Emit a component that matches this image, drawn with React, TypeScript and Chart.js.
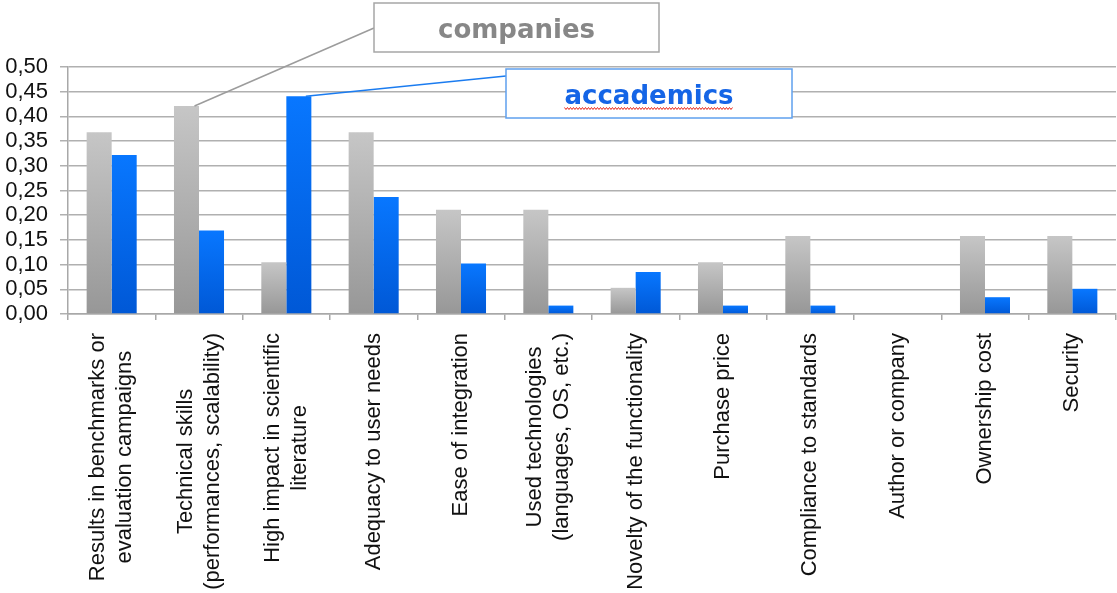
import React, { useEffect, useRef } from "react";
import { Chart, registerables } from "chart.js";

Chart.register(...registerables);

const categories: string[][] = [
  ["Results in benchmarks or", "evaluation campaigns"],
  ["Technical skills", "(performances, scalability)"],
  ["High impact in scientific", "literature"],
  ["Adequacy to user needs"],
  ["Ease of integration"],
  ["Used technologies", "(languages, OS, etc.)"],
  ["Novelty of the functionality"],
  ["Purchase price"],
  ["Compliance to standards"],
  ["Author or company"],
  ["Ownership cost"],
  ["Security"],
];

const seriesNames = ["companies", "accademics"];

const companies = [0.368, 0.421, 0.105, 0.368, 0.211, 0.211, 0.053, 0.105, 0.158, 0, 0.158, 0.158];
const accademics = [0.322, 0.169, 0.441, 0.237, 0.102, 0.017, 0.085, 0.017, 0.017, 0, 0.034, 0.051];

const yTickLabels = ["0,00", "0,05", "0,10", "0,15", "0,20", "0,25", "0,30", "0,35", "0,40", "0,45", "0,50"];

const FONT = "'Liberation Sans', Arial, Helvetica, sans-serif";

// vertical gradient per bar, light at the top, darker at the base
const barGradient = (top: string, bottom: string) => (context: any) => {
  const chart = context.chart;
  const yScale = chart.scales?.y;
  if (!chart.chartArea || !yScale || context.type !== "data") return bottom;
  const yTop = yScale.getPixelForValue(context.raw);
  const yBase = yScale.getPixelForValue(0);
  if (!isFinite(yTop) || Math.abs(yBase - yTop) < 1) return bottom;
  const g = chart.ctx.createLinearGradient(0, yTop, 0, yBase);
  g.addColorStop(0, top);
  g.addColorStop(1, bottom);
  return g;
};

// rotated, centre-aligned category labels under the x axis
const xLabelsPlugin = {
  id: "xLabels",
  afterDraw(chart: any) {
    const { ctx } = chart;
    const xScale = chart.scales.x;
    const lineH = 27;
    const topY = chart.chartArea.bottom + 19;
    ctx.save();
    ctx.font = `22px ${FONT}`;
    ctx.fillStyle = "#111";
    ctx.textBaseline = "middle";
    ctx.textAlign = "center";
    categories.forEach((lines, i) => {
      const cx = xScale.getPixelForValue(i);
      const maxW = Math.max(...lines.map((l) => ctx.measureText(l).width));
      ctx.save();
      ctx.translate(cx, topY);
      ctx.rotate(-Math.PI / 2);
      lines.forEach((line, j) => {
        const off = (j - (lines.length - 1) / 2) * lineH;
        ctx.fillText(line, -maxW / 2, off);
      });
      ctx.restore();
    });
    ctx.restore();
  },
};

// callout boxes with leader lines to the bars
const calloutPlugin = {
  id: "callouts",
  afterDraw(chart: any) {
    const { ctx } = chart;
    const grayBar = chart.getDatasetMeta(0).data[1];
    const blueBar = chart.getDatasetMeta(1).data[2];
    ctx.save();

    ctx.lineWidth = 1.5;
    ctx.strokeStyle = "#9c9c9c";
    ctx.beginPath();
    ctx.moveTo(grayBar.x + 8, grayBar.y);
    ctx.lineTo(374, 28);
    ctx.stroke();

    ctx.strokeStyle = "#1b7cf0";
    ctx.beginPath();
    ctx.moveTo(blueBar.x + 7, blueBar.y);
    ctx.lineTo(506, 76);
    ctx.stroke();

    // companies box
    ctx.fillStyle = "#fff";
    ctx.fillRect(374, 3, 285, 49);
    ctx.strokeStyle = "#a6a6a6";
    ctx.strokeRect(374, 3, 285, 49);
    ctx.font = `bold 26px 'DejaVu Sans', Verdana, sans-serif`;
    ctx.textAlign = "center";
    ctx.textBaseline = "alphabetic";
    ctx.fillStyle = "#878787";
    ctx.fillText(seriesNames[0], 516.5, 38);

    // accademics box
    ctx.fillStyle = "#fff";
    ctx.fillRect(506, 69, 286, 49);
    ctx.strokeStyle = "#5fa0ee";
    ctx.strokeRect(506, 69, 286, 49);
    ctx.fillStyle = "#1565e6";
    ctx.fillText(seriesNames[1], 649, 104);

    // spell-check squiggle
    const w = ctx.measureText(seriesNames[1]).width;
    const x0 = 649 - w / 2;
    ctx.strokeStyle = "#e8261a";
    ctx.lineWidth = 1;
    ctx.beginPath();
    for (let x = x0, k = 0; x <= x0 + w; x += 1.5, k++) {
      const y = 108.5 + (k % 2 === 0 ? -1 : 1);
      if (k === 0) ctx.moveTo(x, y);
      else ctx.lineTo(x, y);
    }
    ctx.stroke();

    ctx.restore();
  },
};

const App = () => {
  const canvasRef = useRef<HTMLCanvasElement>(null);

  useEffect(() => {
    const ctx = canvasRef.current?.getContext("2d");
    if (!ctx) return;

    const chart = new Chart(ctx, {
      type: "bar",
      data: {
        labels: categories.map((c) => c.join(" ")),
        datasets: [
          {
            label: seriesNames[0],
            data: companies,
            backgroundColor: barGradient("#c6c6c6", "#979797"),
            borderWidth: 0,
            barPercentage: 1,
            categoryPercentage: 0.573,
          },
          {
            label: seriesNames[1],
            data: accademics,
            backgroundColor: barGradient("#0877ff", "#0058d6"),
            borderWidth: 0,
            barPercentage: 1,
            categoryPercentage: 0.573,
          },
        ],
      },
      options: {
        responsive: false,
        animation: false,
        layout: { padding: { top: 67, right: 1, bottom: 273, left: 0 } },
        plugins: {
          legend: { display: false },
          tooltip: { enabled: false },
        },
        scales: {
          x: {
            afterFit: (s: any) => {
              s.height = 6;
            },
            ticks: { display: false },
            grid: {
              drawOnChartArea: false,
              drawTicks: true,
              tickLength: 6,
              color: "#a8a8a8",
              lineWidth: 1.5,
            },
            border: { display: true, color: "#a8a8a8", width: 1.5 },
          },
          y: {
            min: 0,
            max: 0.5,
            afterFit: (s: any) => {
              s.width = 68;
            },
            ticks: {
              stepSize: 0.05,
              autoSkip: false,
              padding: 12,
              color: "#111",
              font: { family: FONT, size: 22 },
              callback: (_v: any, i: number) => yTickLabels[i],
            },
            grid: {
              color: "#b0b0b0",
              lineWidth: 1.5,
              drawTicks: true,
              tickLength: 8,
            },
            border: { display: true, color: "#a8a8a8", width: 1.5 },
          },
        },
      },
      plugins: [xLabelsPlugin, calloutPlugin],
    });

    return () => {
      chart.destroy();
    };
  }, []);

  return (
    <div style={{ position: "absolute", left: 0, top: 0, width: 1117, height: 593, background: "#fff" }}>
      <canvas ref={canvasRef} width={1117} height={593} style={{ display: "block" }}></canvas>
    </div>
  );
};

export default App;
